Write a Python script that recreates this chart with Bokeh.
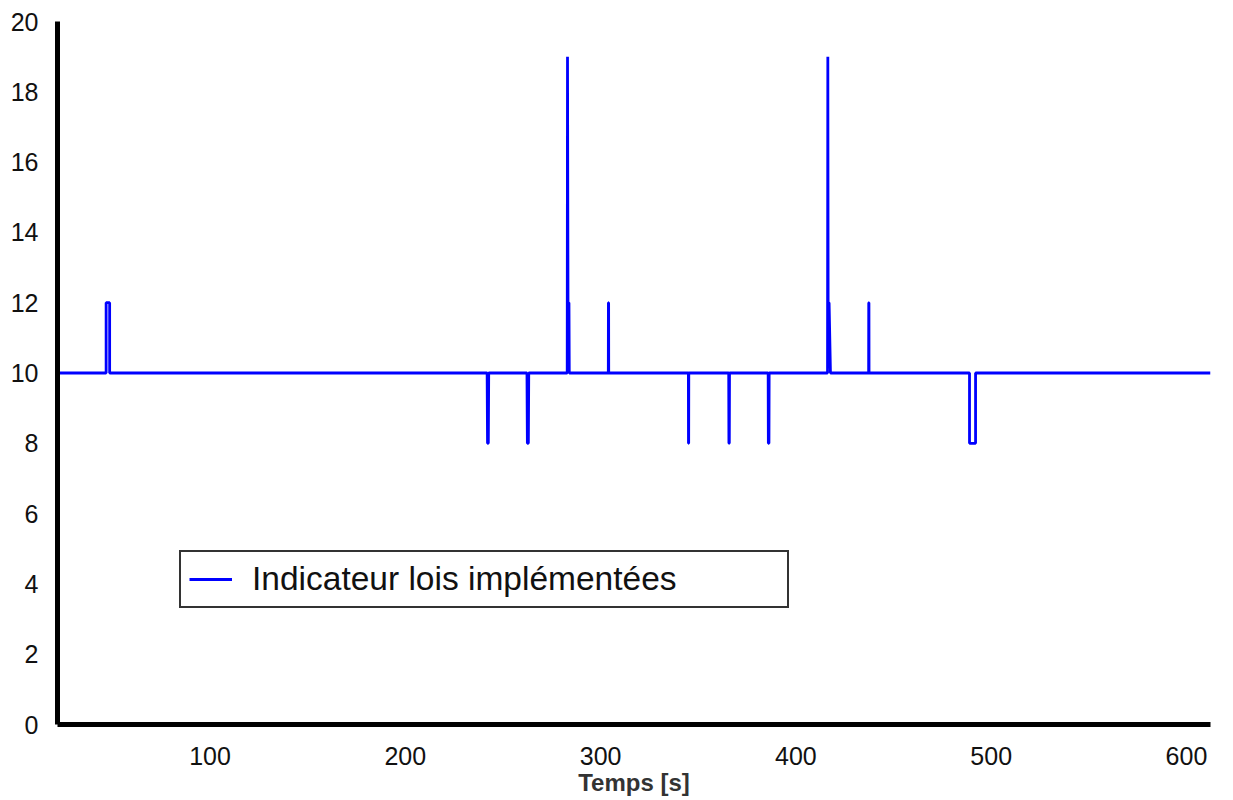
from bokeh.plotting import figure
from bokeh.models import FixedTicker, Legend, LegendItem, Range1d
from bokeh.embed import file_html
from bokeh.resources import INLINE

# Time [s] and indicator values
temps = [22, 46.8, 46.8, 48.6, 48.6, 241.9, 242.1, 242.5, 242.7, 262.3, 262.5, 263.0, 263.2,
         282.9, 283.05, 283.3, 283.8, 283.95, 303.95, 304.0, 304.1, 304.15,
         344.95, 345.0, 345.1, 345.15, 365.6, 365.7, 365.9, 366.0, 385.8, 385.9, 386.2, 386.3,
         416.2, 416.35, 416.5, 417.0, 417.7, 437.25, 437.3, 437.4, 437.45,
         488.9, 488.9, 492.0, 492.0, 612.3]
indicateur = [10, 10, 12, 12, 10, 10, 8, 8, 10, 10, 8, 8, 10,
              10, 19, 12, 12, 10, 10, 12, 12, 10,
              10, 8, 8, 10, 10, 8, 8, 10, 10, 8, 8, 10,
              10, 19, 12, 12, 10, 10, 12, 12, 10,
              10, 8, 8, 10, 10]

x_ticks = [100, 200, 300, 400, 500, 600]
y_ticks = [0, 2, 4, 6, 8, 10, 12, 14, 16, 18, 20]
legend_label = "Indicateur lois implémentées"
x_label = "Temps [s]"

FONT = "Liberation Sans"
BLUE = "#0000ff"

p = figure(width=1225, height=798, output_backend="svg", toolbar_location=None,
           x_range=Range1d(21.9, 612.3), y_range=Range1d(0, 20),
           min_border_left=57, min_border_right=15, min_border_top=21, min_border_bottom=73)
p.outline_line_color = None
p.xgrid.grid_line_color = None
p.ygrid.grid_line_color = None
p.background_fill_color = "white"
p.border_fill_color = "white"

r = p.line(temps, indicateur, line_color=BLUE, line_width=2.8)

for ax in (p.xaxis[0], p.yaxis[0]):
    ax.axis_line_color = "black"
    ax.axis_line_width = 5
    ax.major_tick_line_color = None
    ax.minor_tick_line_color = None
    ax.major_tick_out = 0
    ax.major_tick_in = 0
    ax.major_label_text_font = FONT
    ax.major_label_text_font_size = "25px"
    ax.major_label_text_color = "#111111"

p.xaxis.ticker = FixedTicker(ticks=x_ticks)
p.yaxis.ticker = FixedTicker(ticks=y_ticks)
p.xaxis.major_label_standoff = 22
p.yaxis.major_label_standoff = 19
p.xaxis.axis_label = x_label
p.xaxis.axis_label_text_font = FONT
p.xaxis.axis_label_text_font_size = "24px"
p.xaxis.axis_label_text_font_style = "bold"
p.xaxis.axis_label_text_color = "#333333"
p.xaxis.axis_label_standoff = 1

legend = Legend(items=[LegendItem(label=legend_label, renderers=[r])],
                location=(122, 116),
                label_text_font=FONT, label_text_font_size="33.5px",
                label_text_color="#111111",
                glyph_width=43, glyph_height=30, label_standoff=20,
                label_width=527, label_height=30,
                padding=8, margin=0,
                border_line_color="#333333", border_line_width=2, border_line_alpha=1.0,
                background_fill_color="white", background_fill_alpha=1.0)
p.add_layout(legend)

open("out.html", "w").write(file_html(p, INLINE))
